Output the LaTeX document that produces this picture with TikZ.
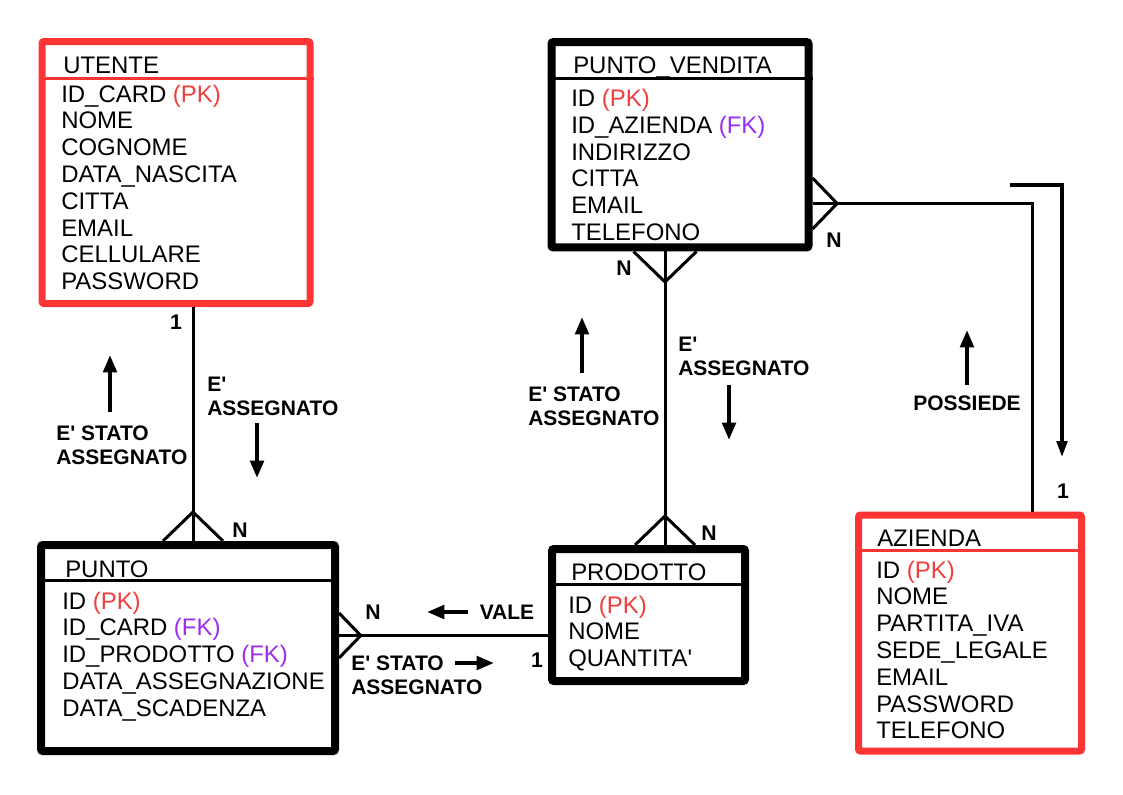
\documentclass[tikz,border=0pt]{standalone}
\usepackage{fontspec}
\setmainfont{Liberation Sans}
\usepackage{xcolor}
\usetikzlibrary{arrows.meta}
\definecolor{rd}{HTML}{FF3535}
\definecolor{pk}{HTML}{F23D3D}
\definecolor{fk}{HTML}{9B2DF0}
\newcommand{\pk}{\textcolor{pk}{(PK)}}
\newcommand{\fk}{\textcolor{fk}{(FK)}}
\newcommand{\ap}{\textquotesingle}

\begin{document}
\begin{tikzpicture}[
    x = 0.75pt, y = -0.75pt, % one unit = one pixel, y goes down
    > = {Triangle[length = 13pt, width = 10pt]}, % arrow head style
    font = \fontsize{17.95}{21}\selectfont,
    crow/.pic = {\draw[link] (-30,0) -- (0,-29) -- (30,0);}, % crow's foot (N side)
  ]

  \tikzstyle{entity}=[
    draw = black,
    line width = 6pt,
    fill = white,
    inner sep = 0pt,
    rounded corners = 1.5pt
  ]
  \tikzstyle{attr}=[anchor = base west, inner sep = 0pt]
  \tikzstyle{link}=[line width = 2.25pt]
  \tikzstyle{card}=[font = \fontsize{15.9}{18}\selectfont\bfseries, inner sep = 0pt]
  \tikzstyle{verb}=[font = \fontsize{15.75}{18}\selectfont\bfseries, inner sep = 0pt, align = left, anchor = west]
  \tikzstyle{dir}=[->, line width = 3pt]

  \useasboundingbox (0,0) rectangle (1123,794);

  % UTENTE
  \node[entity, draw = rd, line width = 5.25pt, minimum width = 201pt, minimum height = 196.5pt] (utente) at (176,172.5) {};
  \draw[link, rd] ([shift={(0,40.5)}]utente.north west) -- ([shift={(0,40.5)}]utente.north east);
  \node[attr] (utente-t) at (63,73) {UTENTE};
  \foreach \a [count=\i] in {ID\_CARD \pk, NOME, COGNOME, DATA\_NASCITA, CITTA, EMAIL, CELLULARE, PASSWORD}
    \node[attr] (utente-\i) at (61, 75.2+26.8*\i) {\a};

  % PUNTO_VENDITA
  \node[entity, minimum width = 192.75pt, minimum height = 154.1pt] (pv) at (680,144.75) {};
  \draw[link] ([shift={(0,40.5)}]pv.north west) -- ([shift={(0,40.5)}]pv.north east);
  \node[attr] (pv-t) at (573,73) {PUNTO\_VENDITA};
  \foreach \a [count=\i] in {ID \pk, ID\_AZIENDA \fk, INDIRIZZO, CITTA, EMAIL, TELEFONO}
    \node[attr] (pv-\i) at (571, 79.7+26.8*\i) {\a};

  % PUNTO
  \node[entity, minimum width = 220.5pt, minimum height = 154.5pt] (punto) at (188,648) {};
  \draw[link] ([shift={(0,39.5)}]punto.north west) -- ([shift={(0,39.5)}]punto.north east);
  \node[attr] (punto-t) at (65,577) {PUNTO};
  \foreach \a [count=\i] in {ID \pk, ID\_CARD \fk, ID\_PRODOTTO \fk, DATA\_ASSEGNAZIONE, DATA\_SCADENZA}
    \node[attr] (punto-\i) at (62, 582.2+26.8*\i) {\a};

  % PRODOTTO
  \node[entity, minimum width = 144.75pt, minimum height = 99pt] (prodotto) at (648.5,615) {};
  \draw[link] ([shift={(0,39)}]prodotto.north west) -- ([shift={(0,39)}]prodotto.north east);
  \node[attr] (prodotto-t) at (571,580) {PRODOTTO};
  \foreach \a [count=\i] in {ID \pk, NOME, QUANTITA\ap}
    \node[attr] (prodotto-\i) at (568, 586.2+26.8*\i) {\a};

  % AZIENDA
  \node[entity, draw = rd, line width = 5.25pt, minimum width = 167.25pt, minimum height = 177pt] (azienda) at (970,633) {};
  \draw[link, rd] ([shift={(0,38.5)}]azienda.north west) -- ([shift={(0,38.5)}]azienda.north east);
  \node[attr] (azienda-t) at (877,546) {AZIENDA};
  \foreach \a [count=\i] in {ID \pk, NOME, PARTITA\_IVA, SEDE\_LEGALE, EMAIL, PASSWORD, TELEFONO}
    \node[attr] (azienda-\i) at (876, 551.2+26.8*\i) {\a};

  % relations
  \coordinate (x1) at (193,0);
  \coordinate (x2) at (665,0);
  \coordinate (x3) at (1032,0);
  \coordinate (y3) at (0,203.5);
  \coordinate (y4) at (0,635.5);

  \draw[link] (utente.south -| x1) -- (punto.north -| x1);
  \pic at (punto.north -| x1) {crow};
  \draw[link] (pv.south -| x2) -- (prodotto.north -| x2);
  \pic[rotate = 180, scale = 1.05] at (pv.south -| x2) {crow};
  \pic at (prodotto.north -| x2) {crow};
  \draw[link] (pv.east |- y3) -| (azienda.north -| x3);
  \pic[rotate = -90, scale = 0.85] at (pv.east |- y3) {crow};
  \draw[link] (punto.east |- y4) -- (prodotto.west |- y4);
  \pic[rotate = -90, scale = 0.75] at (punto.east |- y4) {crow};

  % cardinalities
  \node[card] (c1) at (176,322) {1};
  \node[card] (c2) at (240,530) {N};
  \node[card] (c3) at (624,268) {N};
  \node[card] (c4) at (709,533) {N};
  \node[card] (c5) at (834,240) {N};
  \node[card] (c6) at (1063,491) {1};
  \node[card] (c7) at (373,612) {N};
  \node[card] (c8) at (537,660) {1};

  % relation names
  \node[verb] (v1) at (56,445) {E\ap{} STATO\\ASSEGNATO};
  \node[verb] (v2) at (207,396.5) {E\ap\\ASSEGNATO};
  \node[verb] (v3) at (528,406) {E\ap{} STATO\\ASSEGNATO};
  \node[verb] (v4) at (678,356.5) {E\ap\\ASSEGNATO};
  \node[verb, anchor = center] (v5) at (967,403) {POSSIEDE};
  \node[verb, anchor = center] (v6) at (507,612) {VALE};
  \node[verb] (v7) at (351,675) {E\ap{} STATO\\ASSEGNATO};

  % reading direction
  \coordinate (a1) at (110,412);
  \coordinate (a2) at (257,423);
  \coordinate (a3) at (582,373);
  \coordinate (a4) at (729,385);
  \coordinate (a5) at (967,385);
  \coordinate (a6) at (468,612);
  \coordinate (a7) at (455,663);
  \coordinate (a8) at (1010,185);
  \draw[dir] (a1) -- ++(0,-57);
  \draw[dir] (a2) -- ++(0,55);
  \draw[dir] (a3) -- ++(0,-56);
  \draw[dir] (a4) -- ++(0,55);
  \draw[dir] (a5) -- ++(0,-55);
  \draw[dir] (a6) -- ++(-41,0);
  \draw[dir] (a7) -- ++(39,0);
  \draw[->, line width = 2.5pt, > = {Triangle[length = 12pt, width = 8pt]}] (a8) -- ++(52,0) -- ++(0,272);

\end{tikzpicture}
\end{document}
